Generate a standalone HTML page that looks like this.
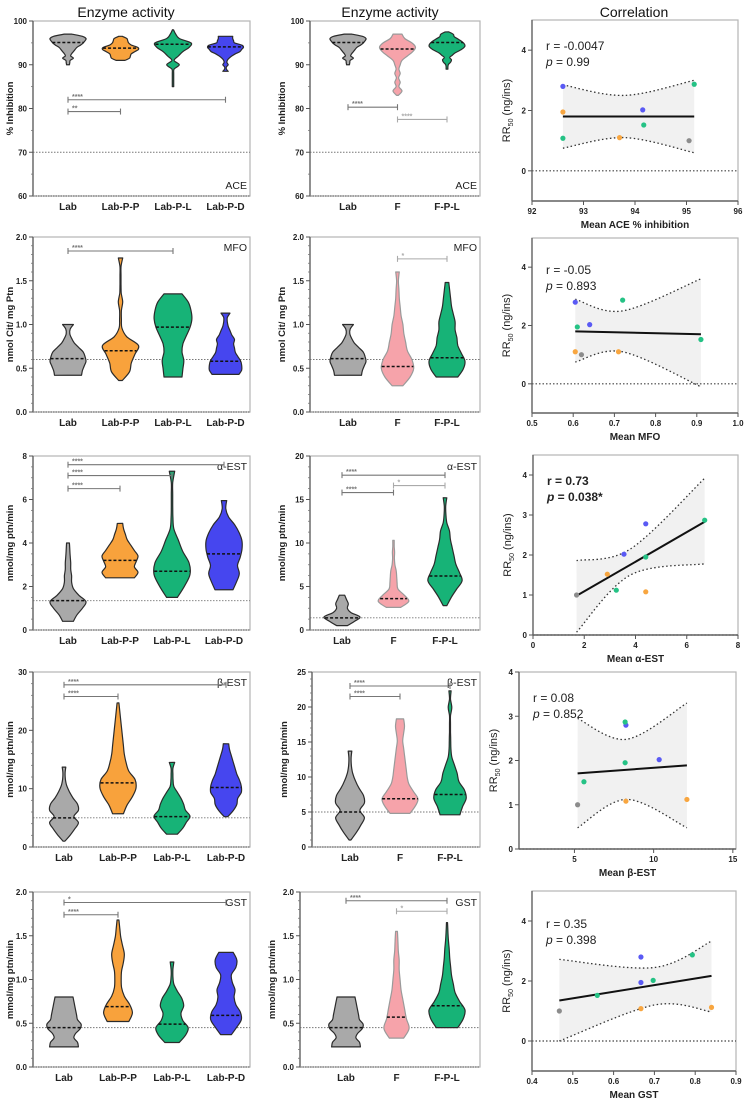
<!DOCTYPE html>
<html><head><meta charset="utf-8">
<style>
html,body{margin:0;padding:0;background:#fff;}
svg{display:block;font-family:"Liberation Sans",Arial,sans-serif;}
</style></head>
<body>
<svg id="fig" width="746" height="1104" viewBox="0 0 746 1104" xmlns="http://www.w3.org/2000/svg">
<text x="126" y="17" font-size="14" text-anchor="middle" fill="#111">Enzyme activity</text>
<text x="390" y="17" font-size="14" text-anchor="middle" fill="#111">Enzyme activity</text>
<text x="634" y="17" font-size="14" text-anchor="middle" fill="#111">Correlation</text>
</svg>
<script>
// ---------- DATA ----------
const cats1 = ["Lab","Lab-P-P","Lab-P-L","Lab-P-D"];
const cats2 = ["Lab","F","F-P-L"];
const colors1 = ["#a9a9a9","#f8a23c","#17b377","#4646ef"];
const colors2 = ["#a9a9a9","#f6a3aa","#17b377"];

// ACE
const aceTicks = [60,70,80,90,100];
const ace1Min = [90,91,85,88.5], ace1Max = [97,96.5,98,96.5], ace1Med = [95.1,93.8,94.7,94.1];
const ace1Shape = [
 [0.08,0.1,0.12,0.3,0.15,0.2,0.3,0.4,0.5,0.7,0.85,0.95,1.0,0.8,0.2],
 [0.25,0.5,0.55,0.6,0.8,1.0,0.95,0.6,0.45,0.4,0.35,0.1],
 [0.04,0.04,0.04,0.04,0.06,0.35,0.06,0.3,0.55,0.9,1.0,0.35,0.15,0.03],
 [0.15,0.05,0.05,0.15,0.08,0.1,0.2,0.35,0.55,0.8,0.9,1.0,0.9,0.5,0.45,0.4,0.4]];
const ace1Br = [[0,3,82,"****"],[0,1,79.3,"**"]];
const ace2Min = [90,83,89], ace2Max = [97,97,97.5], ace2Med = [95.1,93.6,95.1];
const ace2Shape = [
 [0.08,0.1,0.12,0.3,0.15,0.2,0.3,0.4,0.5,0.7,0.85,0.95,1.0,0.8,0.2],
 [0.05,0.25,0.08,0.15,0.06,0.15,0.08,0.15,0.25,0.55,0.85,1.0,0.8,0.4,0.25],
 [0.05,0.05,0.08,0.2,0.25,0.15,0.3,0.45,0.7,0.9,1.0,0.95,0.8,0.6,0.4,0.35,0.1]];
const ace2Br = [[0,1,80.3,"****",0],[1,2,77.5,"****",1]];

// MFO
const mfoTicks = [0,0.5,1,1.5,2];
const mfo1Min = [0.42,0.36,0.4,0.43], mfo1Max = [1.0,1.76,1.35,1.13], mfo1Med = [0.61,0.7,0.97,0.58];
const mfo1Shape = [
 [0.75,0.8,0.9,1.0,0.95,0.85,0.6,0.35,0.2,0.1,0.12,0.3],
 [0.1,0.5,0.6,0.8,1.0,0.35,0.08,0.05,0.05,0.12,0.04,0.03,0.03,0.03,0.12],
 [0.5,0.55,0.6,0.5,0.55,0.75,0.95,1.05,1.0,0.85,0.5],
 [0.75,0.9,0.9,0.85,0.7,0.55,0.5,0.45,0.5,0.35,0.25,0.15,0.1,0.1,0.25]];
const mfo1Br = [[0,2,1.84,"****"]];
const mfo2Min = [0.42,0.3,0.4], mfo2Max = [1.0,1.6,1.48], mfo2Med = [0.61,0.52,0.62];
const mfo2Shape = [
 [0.75,0.8,0.9,1.0,0.95,0.85,0.6,0.35,0.2,0.1,0.12,0.3],
 [0.3,0.7,0.9,0.8,0.55,0.45,0.35,0.3,0.2,0.15,0.1,0.08,0.05,0.1],
 [0.6,0.9,1.0,0.8,0.6,0.55,0.45,0.45,0.35,0.25,0.2,0.15,0.1]];
const mfo2Br = [[1,2,1.75,"*",1]];

// alpha-EST
const aest1Ticks = [0,2,4,6,8], aest2Ticks = [0,5,10,15,20];
const aest1Min = [0.4,2.4,1.5,1.85], aest1Max = [4.0,4.9,7.3,5.95], aest1Med = [1.35,3.2,2.7,3.5];
const aest1Shape = [
 [0.3,0.5,0.8,1.0,0.6,0.3,0.2,0.2,0.15,0.15,0.12,0.1,0.08],
 [0.8,1.0,0.8,0.9,1.0,0.8,0.6,0.4,0.3,0.2,0.15],
 [0.3,0.7,1.0,0.95,0.6,0.35,0.1,0.05,0.04,0.04,0.04,0.15],
 [0.5,0.7,0.85,0.75,0.9,1.0,1.0,0.85,0.6,0.25,0.1,0.15]];
const aest1Br = [[0,3,7.6,"****"],[0,2,7.1,"****"],[0,1,6.5,"****"]];
const aest2Min = [0.5,2.6,2.8], aest2Max = [4,10.3,15.2], aest2Med = [1.4,3.6,6.2];
const aest2Shape = [
 [0.3,0.7,1.0,0.5,0.3,0.35,0.25,0.15],
 [0.4,0.85,0.6,0.25,0.2,0.18,0.15,0.08,0.05,0.06,0.04,0.04],
 [0.1,0.35,0.65,0.95,0.8,0.6,0.5,0.4,0.3,0.25,0.1,0.05,0.04,0.1]];
const aest2Br = [[0,2,17.8,"****",0],[1,2,16.6,"*",1],[0,1,15.8,"****",0]];

// beta-EST
const best1Ticks = [0,10,20,30], best2Ticks = [0,5,10,15,20,25];
const best1Min = [1,5.7,2.2,5.2], best1Max = [13.7,24.7,14.5,17.7], best1Med = [5,11,5.2,10.2];
const best1Shape = [
 [0.05,0.35,0.6,0.8,0.55,0.8,0.75,0.5,0.3,0.15,0.08,0.06,0.1],
 [0.3,0.5,0.8,1.0,0.95,0.6,0.45,0.35,0.3,0.25,0.2,0.15,0.1,0.05],
 [0.3,0.6,0.8,1.0,0.75,0.65,0.5,0.3,0.1,0.06,0.05,0.05,0.15],
 [0.1,0.4,0.6,0.65,0.85,0.85,0.75,0.6,0.5,0.4,0.3,0.2,0.15]];
const best1Br = [[0,3,27.8,"****"],[0,1,25.8,"****"]];
const best2Min = [1,4.8,4.6], best2Max = [13.7,18.3,22.3], best2Med = [5,6.9,7.5];
const best2Shape = [
 [0.05,0.35,0.6,0.8,0.55,0.8,0.75,0.5,0.3,0.15,0.08,0.06,0.1],
 [0.55,0.85,1.0,0.75,0.5,0.4,0.35,0.3,0.25,0.2,0.15,0.2,0.25,0.2],
 [0.55,0.7,0.9,0.8,0.5,0.4,0.25,0.1,0.05,0.04,0.03,0.03,0.03,0.1,0.03,0.06]];
const best2Br = [[0,2,23,"****",0],[0,1,21.5,"****",0]];

// GST
const gstTicks = [0,0.5,1,1.5,2];
const gst1Min = [0.23,0.52,0.28,0.37], gst1Max = [0.8,1.68,1.2,1.31], gst1Med = [0.45,0.69,0.49,0.59];
const gst1Shape = [
 [0.8,0.75,0.55,0.65,0.9,0.95,0.75,0.7,0.65,0.6,0.55,0.5],
 [0.6,0.8,0.65,0.35,0.2,0.18,0.2,0.3,0.35,0.25,0.15,0.1,0.05],
 [0.4,0.75,0.9,0.6,0.5,0.65,0.55,0.3,0.1,0.05,0.05,0.1],
 [0.3,0.6,0.85,0.8,0.55,0.45,0.5,0.35,0.3,0.55,0.6,0.4]];
const gst1Br = [[0,3,1.88,"*"],[0,1,1.74,"****"]];
const gst2Min = [0.23,0.33,0.45], gst2Max = [0.8,1.55,1.65], gst2Med = [0.45,0.57,0.7];
const gst2Shape = [
 [0.8,0.75,0.55,0.65,0.9,0.95,0.75,0.7,0.65,0.6,0.55,0.5],
 [0.4,0.7,0.55,0.45,0.35,0.25,0.2,0.15,0.15,0.1,0.08,0.05],
 [0.6,0.9,1.0,0.7,0.45,0.35,0.25,0.2,0.15,0.12,0.08,0.05,0.03]];
const gst2Br = [[0,2,1.9,"****",0],[1,2,1.78,"*",1]];

// Correlation data
const ptColors = ["#5a5af4","#f8a640","#25c285","#f8a640","#5a5af4","#25c285","#8c8c8c","#25c285"];
const corAceX = [92.6,92.6,92.6,93.7,94.15,94.17,95.05,95.15];
const corAceY = [2.8,1.95,1.08,1.1,2.02,1.52,1.0,2.87];
const corAceFit = [[92.6,1.8],[95.15,1.8]];
const corAceCiX = [92.6,93.8,95.15], corAceUp = [2.85,2.5,3.0], corAceLo = [0.75,1.1,0.6];
const corMfoX = [0.605,0.605,0.61,0.71,0.64,0.91,0.62,0.72];
const corMfoY = [2.8,1.1,1.95,1.1,2.03,1.52,1.0,2.87];
const corMfoFit = [[0.605,1.8],[0.91,1.7]];
const corMfoCiX = [0.605,0.72,0.91], corMfoUp = [2.9,2.5,3.6], corMfoLo = [0.75,1.1,-0.1];
const corAestX = [4.4,2.9,3.25,4.4,3.55,4.4,1.7,6.7];
const corAestY = [2.78,1.52,1.12,1.08,2.02,1.95,1.0,2.87];
const corAestFit = [[1.7,0.98],[6.7,2.83]];
const corAestCiX = [1.7,3.8,6.7], corAestUp = [1.86,2.15,3.92], corAestLo = [0.07,1.5,1.78];
const corBestX = [8.25,8.25,5.6,12.1,10.35,8.2,5.2,8.2];
const corBestY = [2.8,1.08,1.52,1.12,2.02,1.95,1.0,2.87];
const corBestFit = [[5.2,1.71],[12.1,1.89]];
const corBestCiX = [5.2,8.3,12.1], corBestUp = [2.95,2.48,3.3], corBestLo = [0.48,1.12,0.48];
const corGstX = [0.667,0.667,0.56,0.84,0.667,0.697,0.467,0.793];
const corGstY = [2.8,1.08,1.52,1.12,1.95,2.02,1.0,2.87];
const corGstFit = [[0.467,1.35],[0.84,2.17]];
const corGstCiX = [0.467,0.7,0.84], corGstUp = [2.72,2.45,3.33], corGstLo = [0.0,1.2,0.97];

// ---------- DRAWING ----------
const svg = document.getElementById('fig');
const NS = 'http://www.w3.org/2000/svg';
function el(tag, attrs, parent){
  const e = document.createElementNS(NS, tag);
  for (const k in attrs) e.setAttribute(k, attrs[k]);
  (parent||svg).appendChild(e); return e;
}
function txt(x,y,s,size,opts,parent){
  const t = el('text',Object.assign({x:x,y:y,'font-size':size,fill:'#222'},opts||{}),parent);
  t.textContent = s; return t;
}
function crPath(pts){ // catmull-rom through points
  let d = '';
  for (let i=0;i<pts.length-1;i++){
    const p0=pts[Math.max(0,i-1)],p1=pts[i],p2=pts[i+1],p3=pts[Math.min(pts.length-1,i+2)];
    const c1=[p1[0]+(p2[0]-p0[0])/6,p1[1]+(p2[1]-p0[1])/6];
    const c2=[p2[0]-(p3[0]-p1[0])/6,p2[1]-(p3[1]-p1[1])/6];
    d += ` C${c1[0].toFixed(1)},${c1[1].toFixed(1)} ${c2[0].toFixed(1)},${c2[1].toFixed(1)} ${p2[0].toFixed(1)},${p2[1].toFixed(1)}`;
  }
  return d;
}
function fmt(v,dec){return dec? v.toFixed(dec): String(v);}

function violinPanel(cfg){
  const g = el('g',{});
  
  
  const {L,R,T,B,ymin,ymax} = cfg;
  const yS = v => B - (v-ymin)/(ymax-ymin)*(B-T);
  const xS = i => cfg.x0 + i*cfg.step;
  // frame
  const fr = el('rect',{x:L,y:T,width:R-L,height:B-T,fill:'none',stroke:'#b5b5b5','stroke-width':1.2},g);
   
  // reference dotted line
  const rl = el('line',{x1:L,x2:R,y1:yS(cfg.ref),y2:yS(cfg.ref),stroke:'#777','stroke-width':0.9,'stroke-dasharray':'1.5,1.5'},g);
   
  // y axis
  const ya = el('line',{x1:L,x2:L,y1:T,y2:B,stroke:'#666','stroke-width':1.4},g);
   
  const xa = el('line',{x1:L,x2:R,y1:B,y2:B,stroke:'#888','stroke-width':1.4,'stroke-dasharray':'1.5,1'},g);
   
  const tk = cfg.ticks;
  for (let i=0;i<tk.length;i++){
    const y=yS(tk[i]);
    el('line',{x1:L-4,x2:L,y1:y,y2:y,stroke:'#555','stroke-width':1},g);
    const t = txt(L-6,y+3,fmt(tk[i],cfg.dec),8,{'text-anchor':'end','font-weight':'bold'},g);
     
    if (i<tk.length-1){
      for (let m=1;m<cfg.minor;m++){
        const ym = yS(tk[i]+(tk[i+1]-tk[i])*m/cfg.minor);
        el('line',{x1:L-2,x2:L,y1:ym,y2:ym,stroke:'#777','stroke-width':0.8},g);
      }
    }
  }
  // y title
  const yt = txt(cfg.ytx,(T+B)/2,cfg.ytitle,9.5,{'text-anchor':'middle','font-weight':'bold',transform:`rotate(-90 ${cfg.ytx} ${(T+B)/2})`},g);
   
  // enzyme label
  const lab = txt(cfg.lx,cfg.ly,cfg.label,10.5,{'text-anchor':'end'},g);
   
  // violins
  const H = 18;
  cfg.cats.forEach((c,i)=>{
    const cx = xS(i), w = cfg.shape[i], n = w.length;
    const mn = cfg.min[i], mx = cfg.max[i];
    const right = w.map((v,k)=>[cx+v*H, yS(mn+(mx-mn)*k/(n-1))]);
    const left = w.map((v,k)=>[cx-v*H, yS(mn+(mx-mn)*k/(n-1))]).reverse();
    let d = `M${cx},${right[0][1]} L${right[0][0]},${right[0][1]}` + crPath(right) +
            ` L${left[0][0]},${left[0][1]}` + crPath(left) + ' Z';
    const pink = cfg.colors[i]==='#f6a3aa';
    const p = el('path',{d:d,fill:cfg.colors[i],stroke:pink?'#9a9a9a':'#2b2b2b','stroke-width':1.2,'stroke-linejoin':'round'},g);
    
    
    // median
    const fk = (cfg.med[i]-mn)/(mx-mn)*(n-1);
    const k0 = Math.max(0,Math.min(n-2,Math.floor(fk)));
    const wm = (w[k0]+(w[k0+1]-w[k0])*(fk-k0))*H;
    const ym = yS(cfg.med[i]);
    const ml = el('line',{x1:cx-wm,x2:cx+wm,y1:ym,y2:ym,stroke:'#111','stroke-width':1.5,'stroke-dasharray':'3,2'},g);
     
    const xl = txt(cx,B+14,c,10,{'text-anchor':'middle','font-weight':'bold'},g);
     
  });
  // brackets
  cfg.br.forEach(b=>{
    const x1=xS(b[0]), x2=xS(b[1]), y=yS(b[2]), col=b[4]?'#aaa':'#777';
    const bg = el('g',{},g);
     
    el('line',{x1:x1,x2:x2,y1:y,y2:y,stroke:col,'stroke-width':1.1},bg);
    el('line',{x1:x1,x2:x1,y1:y-3,y2:y+3,stroke:col,'stroke-width':1.1},bg);
    el('line',{x1:x2,x2:x2,y1:y-3,y2:y+3,stroke:col,'stroke-width':1.1},bg);
    txt(x1+4,y-1,b[3],7,{fill:col,'font-weight':'bold'},bg);
  });
}

function corrPanel(cfg){
  const g = el('g',{});
  
  
  const {L,R,T,B,xmin,xmax,ymin,ymax} = cfg;
  const xS = v => L + (v-xmin)/(xmax-xmin)*(R-L);
  const yS = v => B - (v-ymin)/(ymax-ymin)*(B-T);
  const fr = el('rect',{x:L,y:T,width:R-L,height:B-T,fill:'none',stroke:'#b5b5b5','stroke-width':1.2},g);
   
  // CI band
  const up = cfg.ciX.map((x,i)=>[xS(x),yS(cfg.up[i])]);
  const lo = cfg.ciX.map((x,i)=>[xS(x),yS(cfg.lo[i])]);
  const loR = lo.slice().reverse();
  const band = el('path',{d:`M${up[0][0]},${up[0][1]}`+crPath(up)+` L${loR[0][0]},${loR[0][1]}`+crPath(loR)+' Z',fill:'#f1f1f1',stroke:'none'},g);
   
  const cu = el('path',{d:`M${up[0][0]},${up[0][1]}`+crPath(up),fill:'none',stroke:'#333','stroke-width':1.3,'stroke-dasharray':'1.5,2.5'},g);
   
  const cl = el('path',{d:`M${lo[0][0]},${lo[0][1]}`+crPath(lo),fill:'none',stroke:'#333','stroke-width':1.3,'stroke-dasharray':'1.5,2.5'},g);
   
  // zero line
  const zl = el('line',{x1:L,x2:R,y1:yS(0),y2:yS(0),stroke:'#444','stroke-width':1.2,'stroke-dasharray':'1.5,2'},g);
   
  // axes
  const ya = el('line',{x1:L,x2:L,y1:T,y2:B,stroke:'#666','stroke-width':1.4},g);
   
  const xa = el('line',{x1:L,x2:R,y1:B,y2:B,stroke:'#666','stroke-width':1.4},g);
   
  cfg.yt.forEach(v=>{
    const y=yS(v);
    el('line',{x1:L-4,x2:L,y1:y,y2:y,stroke:'#555'},g);
    const t=txt(L-6,y+3,String(v),8,{'text-anchor':'end','font-weight':'bold'},g);
     
  });
  cfg.xt.forEach(v=>{
    const x=xS(v);
    el('line',{x1:x,x2:x,y1:B,y2:B+4,stroke:'#555'},g);
    const t=txt(x,B+13,fmt(v,cfg.xdec),8,{'text-anchor':'middle','font-weight':'bold'},g);
     
  });
  const xt = txt((L+R)/2,B+27,cfg.xtitle,10,{'text-anchor':'middle','font-weight':'bold'},g);
   
  const ytx = L-22, ytyC=(T+B)/2;
  const yt = el('text',{x:ytx,y:ytyC,'font-size':11,'text-anchor':'middle',fill:'#222',transform:`rotate(-90 ${ytx} ${ytyC})`},g);
   
  yt.innerHTML = 'RR<tspan font-size="7" dy="3">50</tspan><tspan dy="-3"> (ng/ins)</tspan>';
  // fit line
  const f = cfg.fit;
  const fl = el('line',{x1:xS(f[0][0]),y1:yS(f[0][1]),x2:xS(f[1][0]),y2:yS(f[1][1]),stroke:'#111','stroke-width':2},g);
   
  cfg.px.forEach((x,i)=>{
    const c = el('circle',{cx:xS(x),cy:yS(cfg.py[i]),r:2.6,fill:ptColors[i]},g);
     
  });
  const bold = cfg.bold?{'font-weight':'bold'}:{};
  const r = txt(L+14,T+cfg.sy,cfg.r,12,bold,g);
   
  const p = el('text',Object.assign({x:L+14,y:T+cfg.sy+16,'font-size':12,fill:'#222'},bold),g);
   
  p.innerHTML = '<tspan font-style="italic">p</tspan> = '+cfg.p;
}

const rowsTB = [[21,196],[237,412],[456,630],[672,847],[892,1067]];
const c2L = [310,310,310,312,300];
const c2x0 = [348,348,342,350,346];
const c2step = [49.5,49.5,51.5,50,50.5];
const c1x0 = [68,68,68,64,64], c1step=[52.5,52.5,52,54,54];
const panels = [
 {name:'ace-panel-1',ticks:aceTicks,ymin:60,ymax:100,minor:2,dec:0,ref:70,ytitle:'% Inhibition',label:'ACE',bottomLabel:true,
  min:ace1Min,max:ace1Max,med:ace1Med,shape:ace1Shape,br:ace1Br,
  min2:ace2Min,max2:ace2Max,med2:ace2Med,shape2:ace2Shape,br2:ace2Br,lab2bottom:true},
 {name:'mfo-panel',ticks:mfoTicks,ymin:0,ymax:2,minor:5,dec:1,ref:0.6,ytitle:'nmol Cit/ mg Ptn',label:'MFO',
  min:mfo1Min,max:mfo1Max,med:mfo1Med,shape:mfo1Shape,br:mfo1Br,
  min2:mfo2Min,max2:mfo2Max,med2:mfo2Med,shape2:mfo2Shape,br2:mfo2Br},
 {name:'alpha-est-panel',ticks:aest1Ticks,ticks2:aest2Ticks,ymin:0,ymax:8,ymax2:20,minor:4,dec:0,ref:1.35,ref2:1.4,ytitle:'nmol/mg ptn/min',label:'α-EST',
  min:aest1Min,max:aest1Max,med:aest1Med,shape:aest1Shape,br:aest1Br,
  min2:aest2Min,max2:aest2Max,med2:aest2Med,shape2:aest2Shape,br2:aest2Br},
 {name:'beta-est-panel',ticks:best1Ticks,ticks2:best2Ticks,ymin:0,ymax:30,ymax2:25,minor:5,dec:0,ref:5,ref2:5,ytitle:'nmol/mg ptn/min',label:'β-EST',
  min:best1Min,max:best1Max,med:best1Med,shape:best1Shape,br:best1Br,
  min2:best2Min,max2:best2Max,med2:best2Med,shape2:best2Shape,br2:best2Br},
 {name:'gst-panel',ticks:gstTicks,ymin:0,ymax:2,minor:5,dec:1,ref:0.45,ytitle:'mmol/mg ptn/min',label:'GST',
  min:gst1Min,max:gst1Max,med:gst1Med,shape:gst1Shape,br:gst1Br,
  min2:gst2Min,max2:gst2Max,med2:gst2Med,shape2:gst2Shape,br2:gst2Br}
];
panels.forEach((p,r)=>{
  const [T,B] = rowsTB[r];
  violinPanel({name:p.name+'-lab-strains',L:33,R:250,T:T,B:B,ymin:p.ymin,ymax:p.ymax,ticks:p.ticks,minor:p.minor,dec:p.dec,
    ref:p.ref,ytitle:p.ytitle,ytx:13,label:p.label,lx:247,ly:p.bottomLabel?B-7:T+14,
    cats:cats1,colors:colors1,x0:c1x0[r],step:c1step[r],min:p.min,max:p.max,med:p.med,shape:p.shape,br:p.br});
  violinPanel({name:p.name+'-field-strains',L:c2L[r],R:480,T:T,B:B,ymin:p.ymin,ymax:p.ymax2||p.ymax,ticks:p.ticks2||p.ticks,minor:p.minor,dec:p.dec,
    ref:p.ref2||p.ref,ytitle:p.ytitle,ytx:c2L[r]-25,label:p.label,lx:477,ly:p.lab2bottom?B-7:T+14,
    cats:cats2,colors:colors2,x0:c2x0[r],step:c2step[r],min:p.min2,max:p.max2,med:p.med2,shape:p.shape2,br:p.br2});
});

corrPanel({name:'correlation-ace',L:532,R:738,T:20,B:201,xmin:92,xmax:96,ymin:-1,ymax:5,yt:[0,2,4],xt:[92,93,94,95,96],xdec:0,
  xtitle:'Mean ACE % inhibition',px:corAceX,py:corAceY,fit:corAceFit,ciX:corAceCiX,up:corAceUp,lo:corAceLo,r:'r = -0.0047',p:'0.99',sy:30});
corrPanel({name:'correlation-mfo',L:532,R:738,T:238,B:413,xmin:0.5,xmax:1.0,ymin:-1,ymax:5,yt:[0,2,4],xt:[0.5,0.6,0.7,0.8,0.9,1.0],xdec:1,
  xtitle:'Mean MFO',px:corMfoX,py:corMfoY,fit:corMfoFit,ciX:corMfoCiX,up:corMfoUp,lo:corMfoLo,r:'r = -0.05',p:'0.893',sy:36});
corrPanel({name:'correlation-alpha-est',L:533,R:738,T:455,B:635,xmin:0,xmax:8,ymin:0,ymax:4.5,yt:[0,1,2,3,4],xt:[0,2,4,6,8],xdec:0,
  xtitle:'Mean α-EST',px:corAestX,py:corAestY,fit:corAestFit,ciX:corAestCiX,up:corAestUp,lo:corAestLo,r:'r = 0.73',p:'0.038*',sy:30,bold:true});
corrPanel({name:'correlation-beta-est',L:519,R:736,T:672,B:849,xmin:1.5,xmax:15.2,ymin:0,ymax:4,yt:[0,1,2,3,4],xt:[5,10,15],xdec:0,
  xtitle:'Mean β-EST',px:corBestX,py:corBestY,fit:corBestFit,ciX:corBestCiX,up:corBestUp,lo:corBestLo,r:'r = 0.08',p:'0.852',sy:30});
corrPanel({name:'correlation-gst',L:532,R:736,T:891,B:1071,xmin:0.4,xmax:0.9,ymin:-1,ymax:5,yt:[0,2,4],xt:[0.4,0.5,0.6,0.7,0.8,0.9],xdec:1,
  xtitle:'Mean GST',px:corGstX,py:corGstY,fit:corGstFit,ciX:corGstCiX,up:corGstUp,lo:corGstLo,r:'r = 0.35',p:'0.398',sy:37});
</script>
</body></html>
